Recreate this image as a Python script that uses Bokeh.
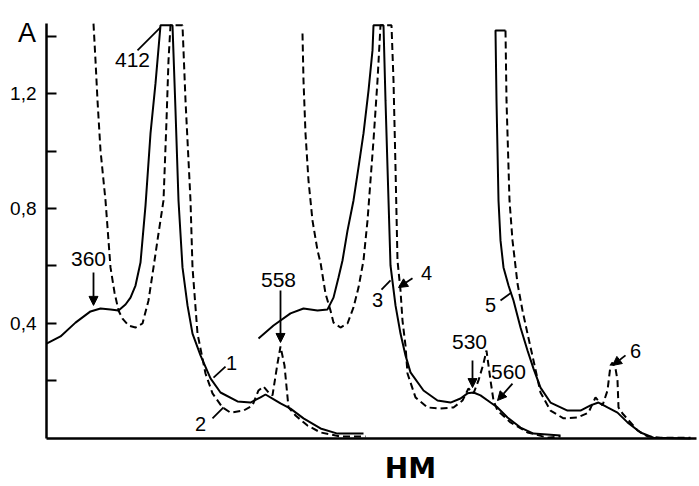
from bokeh.plotting import figure
from bokeh.models import Range1d, FixedTicker, Label, Arrow, NormalHead
from bokeh.embed import file_html
from bokeh.resources import INLINE

# ---- data (position along chart, absorbance A) ----
c1_pos = [0, 14, 29, 44, 54, 64, 72, 79, 84, 89, 94, 99, 104, 109, 114, 126, 129, 132, 136, 141,
          146, 154, 164, 174, 191, 204, 214, 219, 226, 234, 244, 257, 274, 291, 317]
c1_abs = [0.330, 0.355, 0.403, 0.442, 0.452, 0.449, 0.445, 0.466, 0.490, 0.532, 0.612, 0.810, 1.061,
          1.235, 1.437, 1.437, 1.141, 0.828, 0.595, 0.463, 0.365, 0.289, 0.209, 0.160, 0.129, 0.125,
          0.143, 0.153, 0.139, 0.122, 0.104, 0.070, 0.035, 0.017, 0.017]

c2_pos = [47, 49, 51, 54, 59, 64, 68, 72, 76, 82, 89, 96, 102, 107, 112, 117, 120, 122, 124, 136,
          139, 144, 146, 151, 159, 166, 176, 184, 197, 206, 212, 217, 222, 226, 231, 234, 238, 242,
          249, 261, 274, 294, 319]
c2_abs = [1.443, 1.315, 1.176, 1.002, 0.828, 0.595, 0.508, 0.445, 0.417, 0.393, 0.386, 0.400, 0.480,
          0.595, 0.713, 0.828, 1.106, 1.315, 1.437, 1.437, 1.176, 0.828, 0.595, 0.365, 0.226, 0.157,
          0.108, 0.090, 0.097, 0.115, 0.167, 0.181, 0.160, 0.150, 0.261, 0.320, 0.254, 0.108, 0.080,
          0.045, 0.021, 0.007, 0.007]

c3_pos = [212, 227, 244, 257, 271, 281, 287, 292, 296, 301, 307, 312, 317, 322, 326, 327, 337, 339,
          341, 344, 349, 354, 359, 364, 377, 391, 404, 414, 421, 427, 434, 444, 451, 461, 474, 487, 514]
c3_abs = [0.348, 0.393, 0.435, 0.452, 0.445, 0.449, 0.490, 0.560, 0.619, 0.723, 0.828, 0.943, 1.061,
          1.210, 1.350, 1.437, 1.437, 1.176, 0.943, 0.602, 0.463, 0.365, 0.289, 0.230, 0.167, 0.132,
          0.125, 0.139, 0.157, 0.160, 0.150, 0.125, 0.108, 0.073, 0.038, 0.017, 0.010]

c4_pos = [256, 257, 259, 262, 266, 271, 274, 279, 284, 287, 294, 301, 307, 312, 317, 321, 327, 331,
          334, 345, 347, 349, 351, 354, 356, 359, 361, 369, 381, 394, 407, 416, 422, 427, 432, 437,
          440, 444, 447, 451, 464, 481, 501, 514]
c4_abs = [1.409, 1.245, 1.061, 0.897, 0.758, 0.654, 0.612, 0.504, 0.445, 0.403, 0.386, 0.400, 0.456,
          0.525, 0.619, 0.758, 1.037, 1.245, 1.437, 1.437, 1.245, 0.943, 0.619, 0.515, 0.410, 0.323,
          0.226, 0.143, 0.108, 0.104, 0.108, 0.132, 0.174, 0.157, 0.202, 0.261, 0.306, 0.202, 0.132,
          0.097, 0.056, 0.021, 0.003, 0.007]

c5_pos = [459, 449, 450, 452, 454, 457, 462, 467, 474, 481, 487, 494, 504, 521, 534, 544, 552, 561,
          571, 581, 594, 607, 644]
c5_abs = [1.419, 1.419, 1.176, 0.828, 0.689, 0.595, 0.532, 0.480, 0.386, 0.306, 0.243, 0.177, 0.125,
          0.097, 0.097, 0.115, 0.125, 0.108, 0.090, 0.056, 0.021, 0.003, 0.000]

c6_pos = [459, 460, 461, 463, 466, 471, 476, 481, 487, 494, 504, 517, 531, 542, 549, 556, 561, 564,
          566, 569, 571, 572, 576, 591, 601, 614, 644]
c6_abs = [1.419, 1.176, 1.061, 0.828, 0.689, 0.539, 0.445, 0.365, 0.271, 0.160, 0.097, 0.070, 0.073,
          0.090, 0.143, 0.115, 0.167, 0.254, 0.264, 0.243, 0.202, 0.108, 0.087, 0.028, 0.007, 0.003,
          0.003]

y_ticks = [0.2, 0.4, 0.6, 0.8, 1.0, 1.2, 1.4]
y_tick_labels = ["", "0,4", "", "0,8", "", "1,2", ""]
y_axis_end = 1.443
x_axis_end = 650

FONT = "Liberation Sans"

# frame fills the whole canvas; axes are pinned at 0 so text outside the axes is not clipped
p = figure(width=699, height=486, x_range=Range1d(-46, 653), y_range=Range1d(-0.1670, 1.5235),
           output_backend="svg", toolbar_location=None,
           min_border_left=0, min_border_right=0, min_border_top=0, min_border_bottom=0)
p.outline_line_color = None
p.xgrid.visible = False
p.ygrid.visible = False
p.background_fill_color = "white"
p.border_fill_color = "white"

# y axis
p.yaxis.fixed_location = 0
p.yaxis.bounds = (0, y_axis_end)
p.yaxis.ticker = FixedTicker(ticks=y_ticks, minor_ticks=[])
p.yaxis.major_label_overrides = {t: l for t, l in zip(y_ticks, y_tick_labels)}
p.yaxis.major_tick_in = 10
p.yaxis.major_tick_out = 0
p.yaxis.minor_tick_line_color = None
p.yaxis.axis_line_width = 2.5
p.yaxis.major_tick_line_width = 2
p.yaxis.major_label_text_font = FONT
p.yaxis.major_label_text_font_size = "19px"
p.yaxis.major_label_text_color = "black"
p.yaxis.major_label_standoff = 10

# x axis (line only)
p.xaxis.fixed_location = 0
p.xaxis.bounds = (0, x_axis_end)
p.xaxis.ticker = FixedTicker(ticks=[], minor_ticks=[])
p.xaxis.major_tick_line_color = None
p.xaxis.minor_tick_line_color = None
p.xaxis.major_label_text_font_size = "0px"
p.xaxis.axis_line_width = 2.5

# curves
solid = dict(line_color="black", line_width=2)
dashed = dict(line_color="black", line_width=2, line_dash="7 4")
p.line(c1_pos, c1_abs, **solid)
p.line(c2_pos, c2_abs, **dashed)
p.line(c3_pos, c3_abs, **solid)
p.line(c4_pos, c4_abs, **dashed)
p.line(c5_pos, c5_abs, **solid)
p.line(c6_pos, c6_abs, **dashed)

# arrows / leader lines: (x0, y0, x1, y1, head)
leaders = [
    (47, 0.577, 47, 0.463, True),     # 360
    (91, 1.350, 114, 1.430, False),   # 412
    (234, 0.515, 234, 0.334, True),   # 558
    (426, 0.271, 426, 0.177, True),   # 530
    (466, 0.191, 451, 0.132, True),   # 560
    (579, 0.289, 566, 0.254, True),   # 6
    (366, 0.557, 352, 0.525, True),   # 4
    (167, 0.212, 179, 0.250, False),  # 1
    (166, 0.070, 177, 0.108, False),  # 2
    (335, 0.518, 344, 0.550, False),  # 3
    (454, 0.480, 465, 0.508, False),  # 5
]
for x0, y0, x1, y1, head in leaders:
    end = NormalHead(size=9, fill_color="black", line_color="black") if head else None
    p.add_layout(Arrow(end=end, x_start=x0, y_start=y0, x_end=x1, y_end=y1,
                       line_color="black", line_width=1.8))

# text labels: (text, x, y, size)
labels = [
    ("412", 86, 1.315, "21px"),
    ("360", 42, 0.626, "21px"),
    ("558", 232, 0.550, "21px"),
    ("530", 423, 0.334, "21px"),
    ("560", 462, 0.230, "21px"),
    ("1", 185, 0.264, "20px"),
    ("2", 154, 0.052, "20px"),
    ("3", 331, 0.480, "20px"),
    ("4", 380, 0.577, "20px"),
    ("5", 444, 0.463, "20px"),
    ("6", 589, 0.306, "20px"),
]
for t, x, y, s in labels:
    p.add_layout(Label(x=x, y=y, text=t, text_align="center", text_baseline="middle",
                       text_font=FONT, text_font_size=s, text_color="black"))

p.add_layout(Label(x=-19.5, y=1.412, text="A", text_align="center", text_baseline="alphabetic",
                   text_font=FONT, text_font_size="27px", text_color="black"))
p.add_layout(Label(x=364, y=-0.1043, text="HM", text_align="center", text_baseline="middle",
                   text_font="DejaVu Sans", text_font_style="bold", text_font_size="28px",
                   text_color="black"))

open("out.html", "w").write(file_html(p, INLINE))
